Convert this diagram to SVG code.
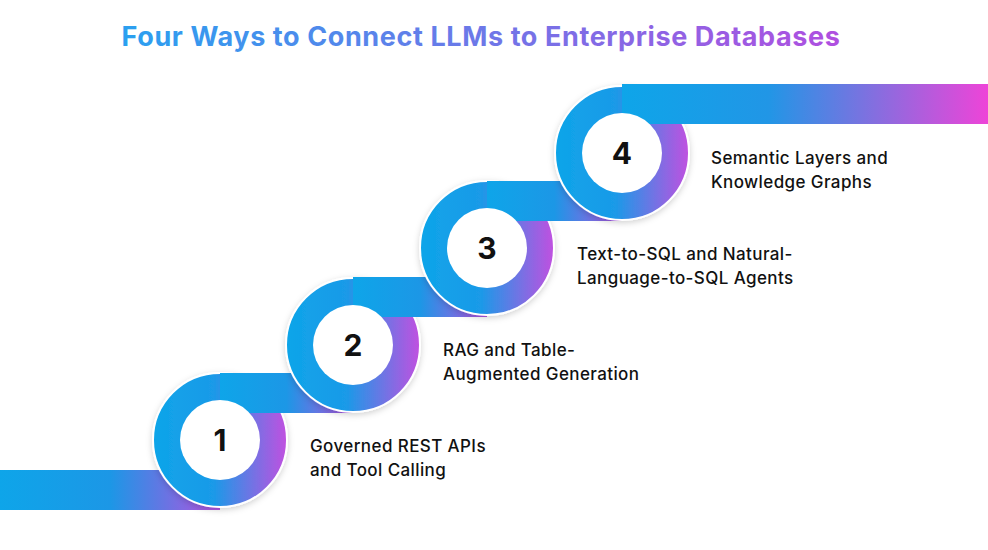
<svg xmlns="http://www.w3.org/2000/svg" width="988" height="550" viewBox="0 0 988 550">
<defs>
<linearGradient id="g" x1="0" y1="0" x2="1" y2="0"><stop offset="0" stop-color="#0ea5e9"/><stop offset="0.5" stop-color="#1c97e6"/><stop offset="1" stop-color="#b452e0"/></linearGradient>
<linearGradient id="gr" x1="0" y1="0" x2="1" y2="0"><stop offset="0" stop-color="#0ea5e9"/><stop offset="0.45" stop-color="#1a9ae8"/><stop offset="1" stop-color="#c150e0"/></linearGradient>
<linearGradient id="gt" x1="0" y1="0" x2="1" y2="0"><stop offset="0" stop-color="#0ea5e9"/><stop offset="0.4" stop-color="#2196e6"/><stop offset="1" stop-color="#ee44d8"/></linearGradient>
<linearGradient id="tg" x1="0" y1="0" x2="1" y2="0"><stop offset="0" stop-color="#2aa0f0"/><stop offset="1" stop-color="#b04fe0"/></linearGradient>
<filter id="sh" x="-20%" y="-20%" width="140%" height="140%"><feDropShadow dx="0" dy="2" stdDeviation="3" flood-color="#000" flood-opacity="0.18"/></filter>
</defs>
<style>
.ring{fill:url(#gr);stroke:#fff;stroke-width:2;filter:url(#sh)}
.hole{fill:#fff}
.num{font-family:Inter,"Liberation Sans",sans-serif;font-size:30px;font-weight:700;fill:#111;text-anchor:middle}
.lbl{font-family:Inter,"Liberation Sans",sans-serif;font-size:17px;font-weight:500;fill:#111;letter-spacing:0.4px}
</style>
<text x="481" y="46" font-family="Inter,'Liberation Sans',sans-serif" font-size="27" font-weight="700" fill="url(#tg)" text-anchor="middle" letter-spacing="0.6">Four Ways to Connect LLMs to Enterprise Databases</text>
<g id="connectors">
<rect x="0" y="470" width="220" height="40" fill="url(#g)"/>
</g>
<g id="node1"><circle class="ring" cx="220" cy="440" r="67"/></g>
<g id="connectors2">
<rect x="220" y="373" width="133" height="40" fill="url(#g)"/>
</g>
<g id="node2"><circle class="ring" cx="353" cy="345" r="67"/></g>
<rect x="353" y="277" width="134" height="40" fill="url(#g)"/>
<g id="node3"><circle class="ring" cx="487" cy="248" r="67"/></g>
<rect x="487" y="181" width="135" height="40" fill="url(#g)"/>
<g id="node4"><circle class="ring" cx="622" cy="153" r="67"/></g>
<rect x="622" y="84" width="366" height="40" fill="url(#gt)"/>
<g id="labels">
<circle class="hole" cx="220" cy="440" r="40"/><text class="num" x="220" y="451">1</text>
<text class="lbl" x="310" y="452">Governed REST APIs</text><text class="lbl" x="310" y="476">and Tool Calling</text>
<circle class="hole" cx="353" cy="345" r="40"/><text class="num" x="353" y="356">2</text>
<text class="lbl" x="443" y="356">RAG and Table-</text><text class="lbl" x="443" y="380">Augmented Generation</text>
<circle class="hole" cx="487" cy="248" r="40"/><text class="num" x="487" y="259">3</text>
<text class="lbl" x="577" y="260">Text-to-SQL and Natural-</text><text class="lbl" x="577" y="284">Language-to-SQL Agents</text>
<circle class="hole" cx="622" cy="153" r="40"/><text class="num" x="622" y="164">4</text>
<text class="lbl" x="711" y="164">Semantic Layers and</text><text class="lbl" x="711" y="188">Knowledge Graphs</text>
</g>
</svg>
